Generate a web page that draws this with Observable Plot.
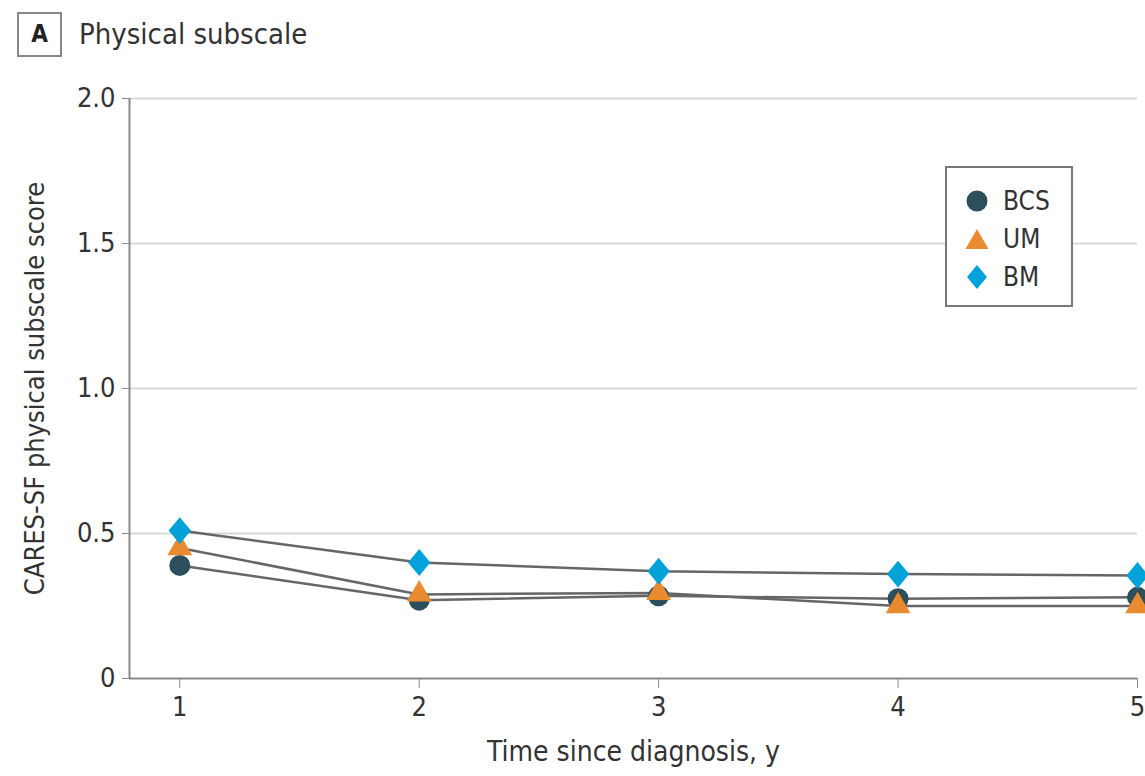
<!DOCTYPE html>
<html>
<head>
<meta charset="utf-8">
<script src="https://cdn.jsdelivr.net/npm/d3@7"></script>
<script src="https://cdn.jsdelivr.net/npm/@observablehq/plot@0.6"></script>
<style>
  html, body { margin: 0; padding: 0; background: #fff; }
  body { width: 1145px; height: 776px; position: relative; overflow: hidden;
         font-family: "DejaVu Sans Condensed", "Liberation Sans Narrow", sans-serif; color: #333; }
  #title { position: absolute; left: 17px; top: 12px; height: 44px; display: flex; align-items: center; }
  #title .badge { width: 45px; height: 45px; box-sizing: border-box; border: 2px solid #888;
     display: flex; align-items: center; justify-content: center; font-weight: bold; font-size: 24px; color: #222; }
  #title .txt { margin-left: 17px; font-size: 29px; color: #333; }
  #chart { position: absolute; left: 0; top: 65px; }
  #legend { position: absolute; left: 945px; top: 166px; width: 128px; height: 141px; box-sizing: border-box;
     border: 2px solid #777; background: #fff; }
  #legend .row { position: absolute; left: 0; height: 30px; display: flex; align-items: center; font-size: 26px; color: #333; }
  #legend svg { margin-left: 18px; margin-right: 14px; }
</style>
</head>
<body>
<div id="title"><div class="badge">A</div><div class="txt">Physical subscale</div></div>
<div id="chart"></div>
<div id="legend"></div>
<script>
const years = [1, 2, 3, 4, 5];
const groups = ["BCS", "UM", "BM"];
const bcsValues = [0.39, 0.27, 0.285, 0.275, 0.28];
const umValues = [0.45, 0.29, 0.295, 0.25, 0.25];
const bmValues = [0.51, 0.40, 0.37, 0.36, 0.355];
const yTicks = [0, 0.5, 1.0, 1.5, 2.0];
const yTickLabels = ["0", "0.5", "1.0", "1.5", "2.0"];
const colors = {BCS: "#2c4f5b", UM: "#ea8a2e", BM: "#00a3d9"};

const squareDiamond = {
  draw(context, size) {
    const s = Math.sqrt(size);
    const h = s * 0.76, w = s * 0.63;
    context.moveTo(0, -h);
    context.lineTo(w, 0);
    context.lineTo(0, h);
    context.lineTo(-w, 0);
    context.closePath();
  }
};
const symbols = {BCS: "circle", UM: "triangle", BM: squareDiamond};
const sizes = {BCS: 10.5, UM: 9.2, BM: 10};

const seriesValues = {BCS: bcsValues, UM: umValues, BM: bmValues};
const data = groups.flatMap(g => years.map((yr, i) => ({group: g, year: yr, value: seriesValues[g][i]})));

const font = "\"DejaVu Sans Condensed\", \"Liberation Sans Narrow\", sans-serif";

const chart = Plot.plot({
  width: 1145,
  height: 711,
  marginLeft: 129,
  marginRight: 8,
  marginTop: 33,
  marginBottom: 98,
  style: {fontFamily: font, fontSize: "27px", color: "#333", overflow: "visible"},
  x: {domain: [0.79, 5]},
  y: {domain: [0, 2]},
  marks: [
    Plot.ruleY(yTicks.filter(d => d > 0), {stroke: "#d9d9d9", strokeWidth: 2}),
    Plot.ruleY([0], {stroke: "#8a8a8a", strokeWidth: 2}),
    Plot.ruleX([0.79], {stroke: "#8a8a8a", strokeWidth: 2}),
    Plot.axisY({ticks: yTicks, tickFormat: (d, i) => yTickLabels[i], tickSize: 7, tickPadding: 7, stroke: "#8a8a8a",
      label: null, fontSize: 27, fill: "#333"}),
    Plot.axisX({ticks: years, tickFormat: d => String(d), tickSize: 10, tickPadding: 8, stroke: "#8a8a8a",
      label: null, fontSize: 27, fill: "#333"}),
    Plot.text(["CARES-SF physical subscale score"], {frameAnchor: "left", textAnchor: "middle", dx: -94, rotate: -90,
      fontSize: 27, fill: "#333"}),
    Plot.text(["Time since diagnosis, y"], {frameAnchor: "bottom", textAnchor: "middle", dy: 82, fontSize: 28, fill: "#333"}),
    Plot.line(data, {x: "year", y: "value", z: "group", stroke: "#666", strokeWidth: 2.5}),
    ...groups.map(g => Plot.dot(data.filter(d => d.group === g), {x: "year", y: "value",
      fill: colors[g], symbol: symbols[g], r: sizes[g], stroke: "none"}))
  ]
});
document.getElementById("chart").appendChild(chart);

// legend
const legend = document.getElementById("legend");
const shapes = {
  BCS: '<circle cx="12" cy="12" r="10.5" fill="' + colors.BCS + '"/>',
  UM: '<path d="M12,2 L23.5,22 L0.5,22 Z" fill="' + colors.UM + '"/>',
  BM: '<path d="M12,0 L22,12 L12,24 L2,12 Z" fill="' + colors.BM + '"/>'
};
groups.forEach((g, i) => {
  const row = document.createElement("div");
  row.className = "row";
  row.style.top = (18 + i * 38) + "px";
  row.innerHTML = '<svg width="24" height="24">' + shapes[g] + '</svg><span>' + g + '</span>';
  legend.appendChild(row);
});
</script>
</body>
</html>
